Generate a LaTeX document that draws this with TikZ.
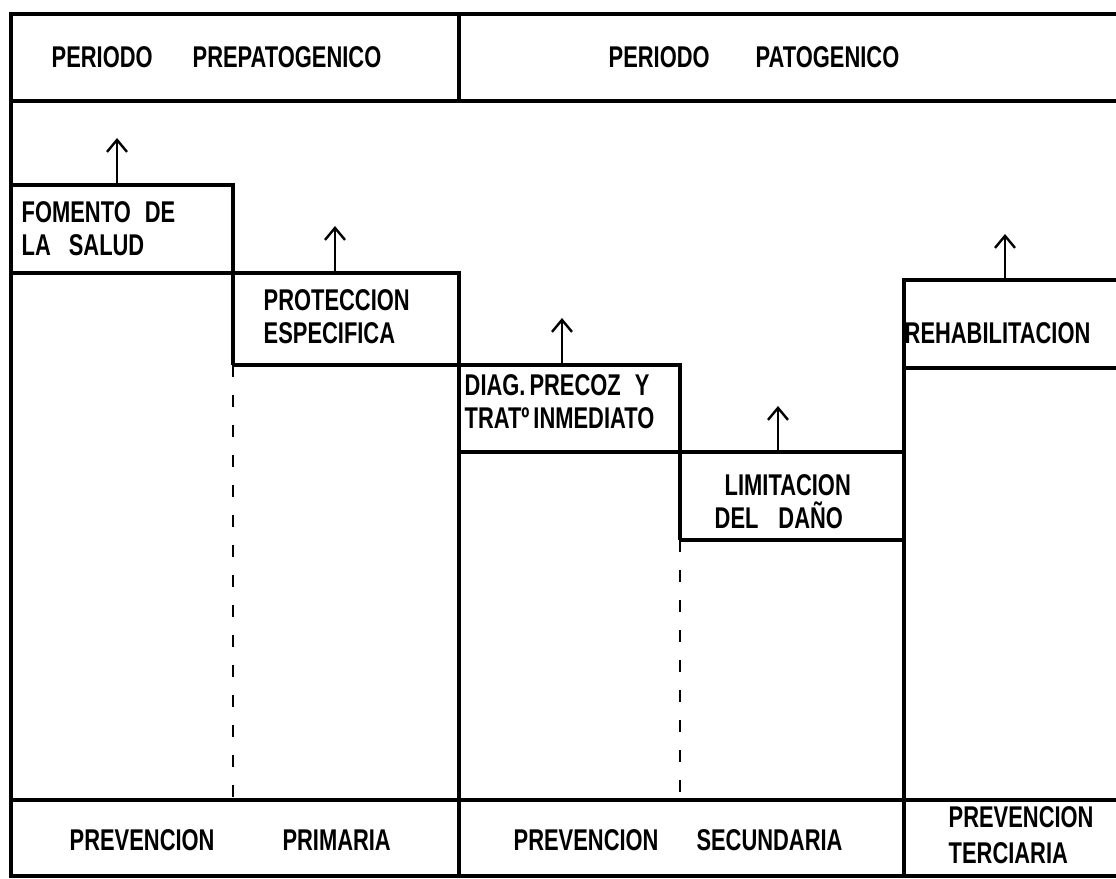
\documentclass[tikz,border=0pt]{standalone}
\usepackage{fontspec}
\setmainfont{Liberation Sans}[FakeStretch=0.73]
\usetikzlibrary{arrows.meta}

\tikzset{
  lbl/.style={font=\bfseries\fontsize{15}{16.5}\selectfont, inner sep=0pt, anchor=west, align=left},
  up/.style={-{Straight Barb[length=6pt,width=10pt]}, line width=1.2pt},
  guide/.style={dash pattern=on 6pt off 9pt, line width=1.2pt}
}

\begin{document}
\begin{tikzpicture}[x=0.5pt,y=-0.5pt,line width=1.7pt]
      \useasboundingbox (0,0) rectangle (1116,879);
      % frame and bands
      \draw (1116,14) -- (11,14) -- (11,876) -- (1116,876);
      \draw (11,101) -- (1116,101);
      \draw (459,14) -- (459,101);
      \draw (11,800) -- (1116,800);
      % steps
      \draw (11,185) -- (233,185) -- (233,365);
      \draw (11,273) -- (459,273) -- (459,876);
      \draw (233,365) -- (680,365) -- (680,540);
      \draw (459,452) -- (904,452);
      \draw (680,540) -- (904,540);
      \draw (904,876) -- (904,280) -- (1116,280);
      \draw (904,368) -- (1116,368);
      \draw[guide] (233,365) -- (233,800);
      \draw[guide] (680,540) -- (680,800);
      % arrows
      \coordinate (fom) at (117,185);  \coordinate (fomtip) at (117,138);
      \coordinate (pro) at (335,273);  \coordinate (protip) at (335,226);
      \coordinate (dia) at (562,365);  \coordinate (diatip) at (562,318);
      \coordinate (lim) at (778,452);  \coordinate (limtip) at (778,406);
      \coordinate (reh) at (1005,280); \coordinate (rehtip) at (1005,234);
      \draw[up] (fom) -- (fomtip);
      \draw[up] (pro) -- (protip);
      \draw[up] (dia) -- (diatip);
      \draw[up] (lim) -- (limtip);
      \draw[up] (reh) -- (rehtip);
      % labels
      \node[lbl] (prepat) at (50,57) {PERIODO\hspace{20pt}PREPATOGENICO};
      \node[lbl] (pat) at (607,57) {PERIODO\hspace{23pt}PATOGENICO};
      \node[lbl] (fomento) at (20,229) {FOMENTO\hspace{7pt}DE\\LA\hspace{9pt}SALUD};
      \node[lbl] (proteccion) at (262,317) {PROTECCION\\ESPECIFICA};
      \node[lbl] (diag) at (463,402) {DIAG.\hspace{2pt}PRECOZ\hspace{7pt}Y\\TRATº\hspace{2pt}INMEDIATO};
      \node[lbl] (limitacion) at (713,502) {\hspace{5pt}LIMITACION\\DEL\hspace{10pt}DAÑO};
      \node[lbl] (rehab) at (903,333) {REHABILITACION};
      \node[lbl] (primaria) at (68,840) {PREVENCION\hspace{34pt}PRIMARIA};
      \node[lbl] (secundaria) at (512,840) {PREVENCION\hspace{19pt}SECUNDARIA};
      \node[lbl, font=\bfseries\fontsize{15}{18}\selectfont] (terciaria) at (947,835) {PREVENCION\\TERCIARIA};
    \end{tikzpicture}
\end{document}
